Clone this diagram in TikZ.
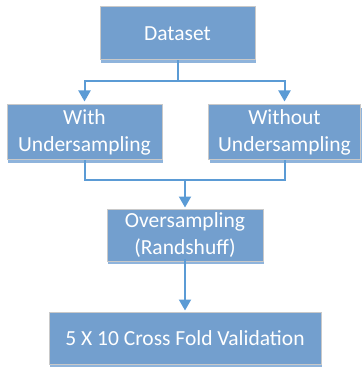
\documentclass[tikz,border=0pt]{standalone}
\usepackage{fontspec}
\setmainfont{Carlito}
\usepackage{tikz}
\usetikzlibrary{arrows.meta, positioning, calc, shadows}
\usepackage{xcolor}
\definecolor{boxblue}{HTML}{739FCE}
\definecolor{shadeblue}{HTML}{8FB4DC}
\definecolor{lineblue}{HTML}{5B9BD5}
\definecolor{rimgray}{HTML}{C9C9C9}

\tikzset{
  stage/.style={rectangle, fill=boxblue, draw=rimgray, line width=1pt,
    text=white, align=center, inner sep=0pt,
    font=\fontsize{21.5}{27}\selectfont,
    drop shadow={shadow xshift=1pt, shadow yshift=-3pt, fill=shadeblue, opacity=1}},
  flow/.style={lineblue, line width=2pt},
  flowarrow/.style={flow, -{Triangle[width=12pt,length=11pt]}}
}

\begin{document}
\begin{tikzpicture}[x=1pt, y=-1pt]
        \useasboundingbox (0,0) rectangle (361,371);
        \node[stage, minimum width=155pt, minimum height=53pt] (dataset) at (177.5,33.5) {Dataset};
        \node[stage, minimum width=155pt, minimum height=55pt] (withus) at (84.5,132.5) {With\\Undersampling};
        \node[stage, minimum width=152pt, minimum height=55pt] (withoutus) at (284.5,132.5) {Without\\Undersampling};
        \node[stage, minimum width=156pt, minimum height=52pt] (oversamp) at (185,235) {Oversampling\\(Randshuff)};
        \node[stage, minimum width=272pt, minimum height=52pt] (crossval) at (185,338) {5 X 10 Cross Fold Validation};
        % split
        \coordinate (splitc) at (177.5,81);
        \draw[flow] (dataset.south) -- (splitc);
        \draw[flowarrow] (splitc) -| ([yshift=3pt]withus.north);
        \draw[flowarrow] (splitc) -| ([yshift=3pt]withoutus.north);
        % merge
        \coordinate (mergec) at (oversamp.north |- 0,180);
        \draw[flow] (withus.south) |- (mergec);
        \draw[flow] (withoutus.south) |- (mergec);
        \draw[flowarrow] (mergec) -- ([yshift=1pt]oversamp.north);
        \draw[flowarrow] ([yshift=3pt]oversamp.south) -- ([yshift=1pt]crossval.north);
      \end{tikzpicture}
\end{document}
